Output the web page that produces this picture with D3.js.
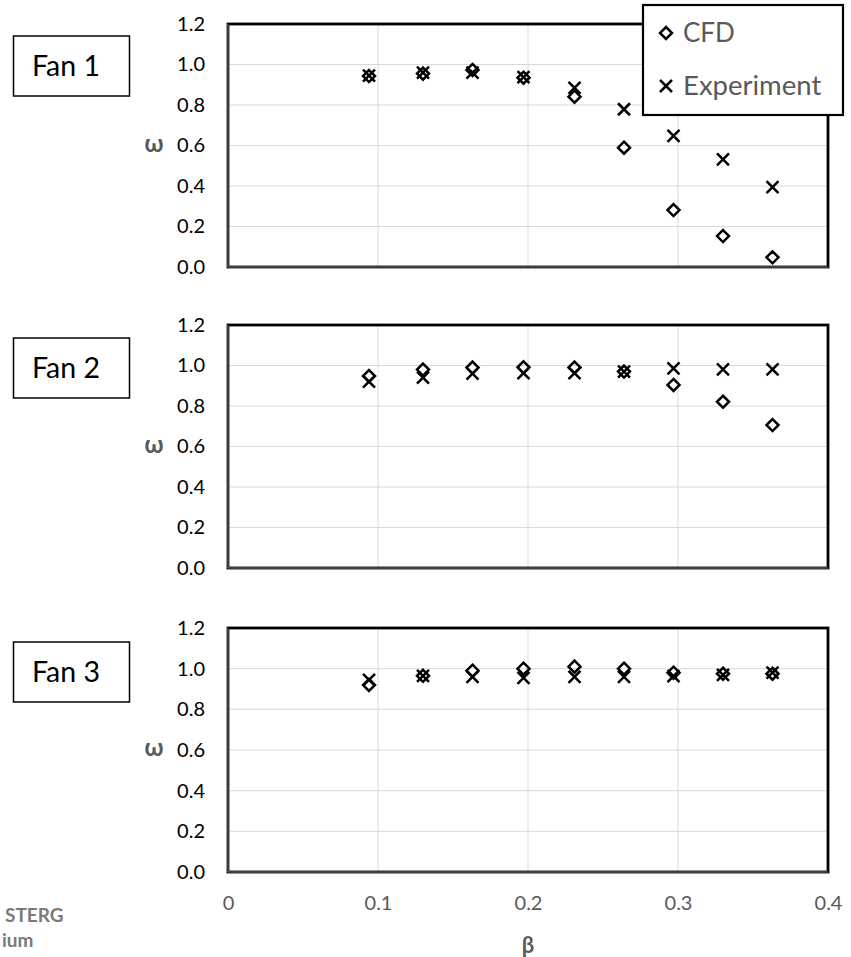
<!DOCTYPE html>
<html>
<head>
<meta charset="utf-8">
<script src="https://cdn.jsdelivr.net/npm/d3@7/dist/d3.min.js"></script>
<style>
  html, body { margin: 0; padding: 0; background: #fff; }
  svg { display: block; }
  text { font-family: Lato, "Noto Sans", sans-serif; }
</style>
</head>
<body>
<script>
// ---------- data ----------
const betaValues = [0.094, 0.130, 0.163, 0.197, 0.231, 0.264, 0.297, 0.330, 0.363];
const fan1CFD = [0.943, 0.955, 0.973, 0.935, 0.841, 0.589, 0.281, 0.153, 0.048];
const fan1Exp = [0.945, 0.960, 0.960, 0.938, 0.884, 0.779, 0.647, 0.532, 0.394];
const fan2CFD = [0.948, 0.980, 0.990, 0.991, 0.990, 0.970, 0.904, 0.821, 0.706];
const fan2Exp = [0.920, 0.940, 0.960, 0.962, 0.962, 0.970, 0.986, 0.981, 0.981];
const fan3CFD = [0.920, 0.965, 0.990, 1.000, 1.010, 1.000, 0.980, 0.975, 0.975];
const fan3Exp = [0.945, 0.965, 0.960, 0.955, 0.960, 0.960, 0.963, 0.970, 0.980];
const fanLabels = ["Fan 1", "Fan 2", "Fan 3"];
const seriesNames = ["CFD", "Experiment"];
const xTicks = [0, 0.1, 0.2, 0.3, 0.4];
const yTicks = [0, 0.2, 0.4, 0.6, 0.8, 1.0, 1.2];
const xTitle = "β";
const yTitle = "ω";

// ---------- layout ----------
const W = 851, H = 957;
const svg = d3.select("body").append("svg").attr("width", W).attr("height", H);

const x = d3.scaleLinear().domain([0, 0.4]).range([228, 828]);
const panels = [
  {label: fanLabels[0], cfd: fan1CFD, exp: fan1Exp, top: 24, bottom: 267, box: 36},
  {label: fanLabels[1], cfd: fan2CFD, exp: fan2Exp, top: 325, bottom: 568, box: 338},
  {label: fanLabels[2], cfd: fan3CFD, exp: fan3Exp, top: 628, bottom: 872, box: 642}
];

const SW = 2.5;
const diamond = (g, cx, cy) => g.append("path")
  .attr("d", `M${cx},${cy-6}L${cx+6},${cy}L${cx},${cy+6}L${cx-6},${cy}Z`)
  .attr("fill", "none").attr("stroke", "#000").attr("stroke-width", SW);
const cross = (g, cx, cy) => g.append("path")
  .attr("d", `M${cx-6},${cy-6}L${cx+6},${cy+6}M${cx+6},${cy-6}L${cx-6},${cy+6}`)
  .attr("fill", "none").attr("stroke", "#000").attr("stroke-width", SW);

panels.forEach((p, i) => {
  const y = d3.scaleLinear().domain([0, 1.2]).range([p.bottom, p.top]);
  const g = svg.append("g");

  // gridlines
  g.append("g").selectAll("line.h").data(yTicks.slice(1, -1)).join("line")
    .attr("x1", x(0)).attr("x2", x(0.4))
    .attr("y1", d => y(d)).attr("y2", d => y(d))
    .attr("stroke", "#d9d9d9").attr("stroke-width", 1);
  g.append("g").selectAll("line.v").data(xTicks.slice(1, -1)).join("line")
    .attr("y1", y(0)).attr("y2", y(1.2))
    .attr("x1", d => x(d)).attr("x2", d => x(d))
    .attr("stroke", "#d9d9d9").attr("stroke-width", 1);

  // plot border
  g.append("rect").attr("x", x(0)).attr("y", y(1.2))
    .attr("width", x(0.4) - x(0)).attr("height", y(0) - y(1.2))
    .attr("fill", "none").attr("stroke", "#000").attr("stroke-width", 2.8);
  // axis lines (gray over border)
  g.append("line").attr("x1", x(0)).attr("x2", x(0)).attr("y1", y(1.2)).attr("y2", y(0))
    .attr("stroke", "#9a9a9a").attr("stroke-width", 0.8);
  g.append("line").attr("x1", x(0)).attr("x2", x(0.4)).attr("y1", y(0)).attr("y2", y(0))
    .attr("stroke", "#9a9a9a").attr("stroke-width", 0.8);

  // y axis tick labels
  const yAxis = d3.axisLeft(y).tickValues(yTicks).tickFormat(d3.format(".1f")).tickSize(0).tickPadding(23);
  const ya = g.append("g").attr("transform", `translate(${x(0)},0)`).call(yAxis);
  ya.select(".domain").remove();
  ya.selectAll("text").attr("font-size", 20).attr("fill", "#000")
    .style("font-family", "Lato, 'Noto Sans', sans-serif");

  // y title
  g.append("text").attr("x", 154).attr("y", (p.top + p.bottom) / 2 + 6)
    .attr("text-anchor", "middle").attr("font-size", 24).attr("font-weight", "bold")
    .attr("fill", "#595959").text(yTitle);

  // fan label box
  g.append("rect").attr("x", 13.5).attr("y", p.box).attr("width", 116).attr("height", 60)
    .attr("fill", "#fff").attr("stroke", "#000").attr("stroke-width", 1.5);
  g.append("text").attr("x", 66).attr("y", p.box + 30).attr("dy", "0.36em")
    .attr("text-anchor", "middle").attr("font-size", 28.5).attr("fill", "#000").text(p.label);

  // markers
  const mk = g.append("g");
  betaValues.forEach((b, k) => diamond(mk, x(b), y(p.cfd[k])));
  betaValues.forEach((b, k) => cross(mk, x(b), y(p.exp[k])));
});

// x axis labels (bottom panel only)
const xAxis = d3.axisBottom(x).tickValues(xTicks).tickFormat(d => d === 0 ? "0" : d3.format(".1f")(d)).tickSize(0).tickPadding(24);
const xa = svg.append("g").attr("transform", `translate(0,872)`).call(xAxis);
xa.select(".domain").remove();
xa.selectAll("text").attr("font-size", 20).attr("fill", "#595959")
  .style("font-family", "Lato, 'Noto Sans', sans-serif");

svg.append("text").attr("x", x(0.2)).attr("y", 953).attr("text-anchor", "middle")
  .attr("font-size", 22).attr("font-weight", "bold").attr("fill", "#595959").text(xTitle);

// legend
const lg = svg.append("g");
lg.append("rect").attr("x", 643).attr("y", 5).attr("width", 200).attr("height", 110)
  .attr("fill", "#fff").attr("stroke", "#000").attr("stroke-width", 2.2);
diamond(lg, 666, 33);
cross(lg, 666, 86);
lg.append("text").attr("x", 683).attr("y", 42).attr("font-size", 26).attr("fill", "#595959").text(seriesNames[0]);
lg.append("text").attr("x", 683).attr("y", 95).attr("font-size", 27.5).attr("fill", "#595959").text(seriesNames[1]);

// cropped watermark fragment
svg.append("text").attr("x", 5).attr("y", 922).attr("font-size", 19).attr("font-weight", "bold")
  .attr("fill", "#7a7a7a").text("STERG");
svg.append("text").attr("x", 2).attr("y", 947).attr("font-size", 19).attr("font-weight", "bold")
  .attr("fill", "#7a7a7a").text("ium");
</script>
</body>
</html>
